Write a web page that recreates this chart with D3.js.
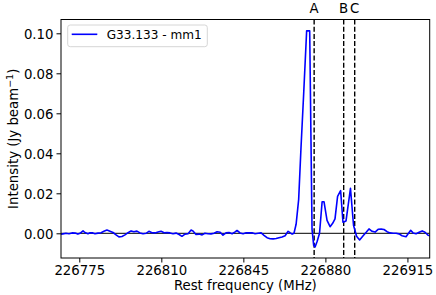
<!DOCTYPE html>
<html>
<head>
<meta charset="utf-8">
<script src="https://cdn.jsdelivr.net/npm/d3@7"></script>
<style>
    body { margin: 0; background: #fff; }
    svg { display: block; font-family: 'DejaVu Sans', sans-serif; }
</style>
</head>
<body>
<div id="chart"></div>
<script>
// spectrum (MHz, Jy/beam)
var freqs = [
    226767.2, 226768.0, 226769.3, 226770.6, 226771.9, 226773.2, 226774.4, 226775.3,
    226776.6, 226777.4, 226778.7, 226779.6, 226780.8, 226781.7, 226783.0, 226784.3,
    226785.5, 226786.8, 226788.1, 226789.4, 226790.7, 226791.9, 226793.2, 226794.5,
    226795.8, 226797.1, 226798.3, 226799.6, 226800.9, 226802.2, 226803.5, 226804.7,
    226806.0, 226807.3, 226808.6, 226809.9, 226811.2, 226812.4, 226813.7, 226815.0,
    226816.3, 226817.6, 226818.8, 226820.1, 226821.4, 226822.7, 226823.5, 226824.8,
    226826.1, 226827.4, 226828.6, 226829.9, 226831.2, 226832.5, 226833.8, 226835.1,
    226836.3, 226837.6, 226838.9, 226840.2, 226841.5, 226842.3, 226843.6, 226844.9,
    226846.2, 226847.4, 226848.7, 226850.0, 226851.3, 226852.6, 226853.8, 226855.1,
    226856.4, 226857.7, 226859.0, 226860.2, 226861.5, 226862.8, 226864.1, 226864.9,
    226865.8, 226866.6, 226867.5, 226868.6, 226869.6, 226870.7, 226872.0, 226873.3,
    226874.3, 226875.0, 226875.6, 226876.5, 226877.5, 226878.6, 226879.4, 226880.7,
    226882.0, 226883.1, 226884.1, 226885.2, 226886.5, 226887.5, 226888.8, 226890.7,
    226892.0, 226893.3, 226894.6, 226896.1, 226897.4, 226898.6, 226899.9, 226901.2,
    226902.5, 226903.8, 226905.0, 226906.3, 226907.6, 226908.9, 226910.2, 226911.4,
    226912.7, 226914.4, 226915.3, 226916.4, 226917.4, 226918.7, 226920.0, 226921.3,
    226922.5, 226923.8, 226924.7
];
var intensity = [
    -0.0005, -0.0003, 0.0000, -0.0002, 0.0002, 0.0001, -0.0004, 0.0000,
    0.0012, 0.0004, -0.0002, 0.0003, 0.0002, -0.0002, 0.0001, 0.0003,
    0.0010, 0.0016, 0.0010, 0.0004, -0.0008, -0.0018, -0.0016, -0.0008,
    0.0003, 0.0012, 0.0008, 0.0011, 0.0002, -0.0002, 0.0000, 0.0010,
    0.0003, 0.0002, 0.0006, 0.0010, 0.0003, 0.0004, 0.0002, -0.0002,
    0.0001, -0.0006, -0.0015, -0.0004, -0.0002, 0.0016, 0.0012, -0.0006,
    -0.0004, -0.0008, 0.0000, -0.0002, -0.0003, 0.0000, 0.0008, 0.0005,
    -0.0009, 0.0002, 0.0004, -0.0002, 0.0007, 0.0014, 0.0002, -0.0002,
    0.0003, 0.0002, 0.0003, -0.0002, 0.0000, 0.0002, -0.0010, -0.0022,
    -0.0027, -0.0028, -0.0026, -0.0022, -0.0018, -0.0012, 0.0010, 0.0003,
    -0.0004, 0.0000, 0.0045, 0.0170, 0.0430, 0.0690, 0.1012, 0.1012,
    0.0020, -0.0060, -0.0068, -0.0040, 0.0000, 0.0158, 0.0158, 0.0065,
    0.0033, 0.0050, 0.0072, 0.0185, 0.0213, 0.0055, 0.0062, 0.0225,
    0.0040, -0.0015, -0.0033, -0.0012, 0.0005, 0.0022, 0.0010, 0.0006,
    0.0020, 0.0021, 0.0019, 0.0008, 0.0002, 0.0000, 0.0000, -0.0003,
    -0.0012, -0.0017, -0.0002, 0.0015, 0.0002, -0.0002, 0.0005, 0.0012,
    0.0005, -0.0010, -0.0012
];
var seriesName = 'G33.133 - mm1';

var markerFreqs = [226875.2, 226887.8, 226892.5];
var markerLabels = ['A', 'B', 'C'];

var xTicks = [226775, 226810, 226845, 226880, 226915];
var yTicks = [0.00, 0.02, 0.04, 0.06, 0.08, 0.10];
var xDomain = [226767.2, 226924.5];
var yDomain = [-0.01235, 0.1069];

var width = 436,
    height = 295;
var margin = {top: 19.5, right: 6.3, bottom: 37, left: 61};
var fontSize = 13.3;

var svg = d3.select('#chart').append('svg')
    .attr('width', width)
    .attr('height', height);

var x = d3.scaleLinear().domain(xDomain).range([margin.left, width - margin.right]);
var y = d3.scaleLinear().domain(yDomain).range([height - margin.bottom, margin.top]);

var points = freqs.map(function (f, i) {
    return {f: f, v: intensity[i]};
});

svg.append('defs').append('clipPath')
    .attr('id', 'plotClip')
    .append('rect')
    .attr('x', margin.left)
    .attr('y', margin.top)
    .attr('width', width - margin.left - margin.right)
    .attr('height', height - margin.top - margin.bottom);

let plot = svg.append('g').attr('clip-path', 'url(#plotClip)');

// zero line
plot.append('line')
    .attr('x1', x.range()[0])
    .attr('x2', x.range()[1])
    .attr('y1', y(0))
    .attr('y2', y(0))
    .attr('stroke', '#000')
    .attr('stroke-width', 1);

// transition markers
plot.selectAll('.marker')
    .data(markerFreqs)
    .enter().append('line')
    .classed('marker', true)
    .attr('x1', function (d) { return x(d); })
    .attr('x2', function (d) { return x(d); })
    .attr('y1', y.range()[1])
    .attr('y2', y.range()[0])
    .attr('stroke', '#000')
    .attr('stroke-width', 1.4)
    .attr('stroke-dasharray', '5,2.2');

let line = d3.line()
    .x(function (d) { return x(d.f); })
    .y(function (d) { return y(d.v); });

plot.append('path')
    .datum(points)
    .attr('d', line)
    .attr('fill', 'none')
    .attr('stroke', '#0000ff')
    .attr('stroke-width', 1.6)
    .attr('stroke-linejoin', 'round');

svg.selectAll('.markerLabel')
    .data(markerFreqs)
    .enter().append('text')
    .classed('markerLabel', true)
    .attr('x', function (d) { return x(d); })
    .attr('y', 13)
    .attr('text-anchor', 'middle')
    .attr('font-size', fontSize)
    .text(function (d, i) { return markerLabels[i]; });

// axes
let xAxis = svg.append('g')
    .attr('transform', 'translate(0,' + (height - margin.bottom) + ')')
    .call(d3.axisBottom(x).tickValues(xTicks).tickFormat(d3.format('d'))
        .tickSize(4.5).tickPadding(3.5).tickSizeOuter(0));
let yAxis = svg.append('g')
    .attr('transform', 'translate(' + margin.left + ',0)')
    .call(d3.axisLeft(y).tickValues(yTicks).tickFormat(d3.format('.2f'))
        .tickSize(4.5).tickPadding(3).tickSizeOuter(0));

[xAxis, yAxis].forEach(function (ax) {
    ax.select('.domain').remove();
    ax.selectAll('text')
        .attr('font-family', 'DejaVu Sans, sans-serif')
        .attr('font-size', fontSize)
        .attr('fill', '#000');
    ax.selectAll('line').attr('stroke', '#000').attr('stroke-width', 1);
});
yAxis.selectAll('text').attr('dy', '0.36em');

// frame
svg.append('rect')
    .attr('x', margin.left)
    .attr('y', margin.top)
    .attr('width', width - margin.left - margin.right)
    .attr('height', height - margin.top - margin.bottom)
    .attr('fill', 'none')
    .attr('stroke', '#000')
    .attr('stroke-width', 1);

svg.append('text')
    .attr('x', (margin.left + width - margin.right) / 2)
    .attr('y', 290)
    .attr('text-anchor', 'middle')
    .attr('font-size', fontSize)
    .text('Rest frequency (MHz)');

let yLabel = svg.append('text')
    .attr('transform', 'translate(18,' + ((margin.top + height - margin.bottom) / 2) + ') rotate(-90)')
    .attr('text-anchor', 'middle')
    .attr('font-size', fontSize);
yLabel.append('tspan').text('Intensity (Jy beam');
yLabel.append('tspan').attr('dy', -5).attr('font-size', 9.5).text('\u22121');
yLabel.append('tspan').attr('dy', 5).text(')');

// legend
let legend = svg.append('g').attr('transform', 'translate(67.7,25)');
legend.append('rect')
    .attr('width', 139.6)
    .attr('height', 21.7)
    .attr('rx', 2.5)
    .attr('fill', '#fff')
    .attr('fill-opacity', 0.8)
    .attr('stroke', '#d6d6d6')
    .attr('stroke-width', 1);
legend.append('line')
    .attr('x1', 4)
    .attr('x2', 29.6)
    .attr('y1', 9.3)
    .attr('y2', 9.3)
    .attr('stroke', '#0000ff')
    .attr('stroke-width', 1.6);
legend.append('text')
    .attr('x', 39)
    .attr('y', 14.3)
    .attr('font-size', 12.1)
    .text(seriesName);
</script>
</body>
</html>
